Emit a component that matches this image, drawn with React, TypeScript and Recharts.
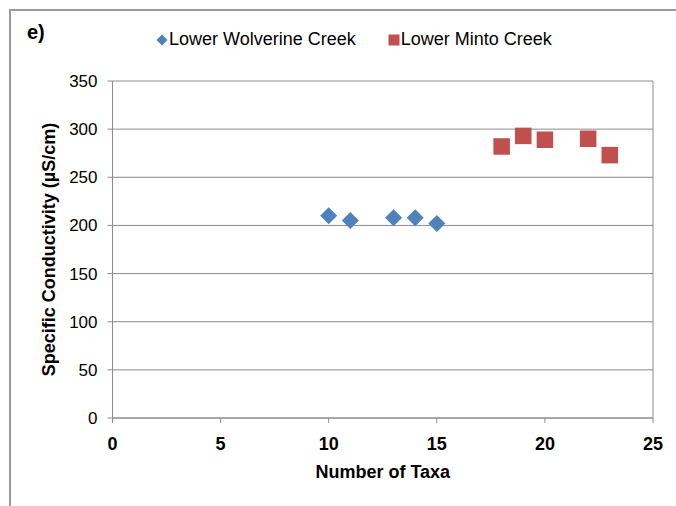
import {
  ScatterChart, Scatter, XAxis, YAxis, CartesianGrid, ReferenceLine,
} from "recharts";

const wolverineTaxa = [10, 11, 13, 14, 15];
const wolverineCond = [210, 205, 208, 208, 202];
const mintoTaxa = [18, 19, 20, 22, 23];
const mintoCond = [282, 293, 289, 290, 273];

const xTicks = [0, 5, 10, 15, 20, 25];
const yTicks = [0, 50, 100, 150, 200, 250, 300, 350];

const BLUE = "#4F81BD";
const RED = "#C0504D";
const AXIS = "#8c8c8c";
const FONT = "'Liberation Sans', Arial, sans-serif";

const wolverine = wolverineTaxa.map((x, i) => ({ x, y: wolverineCond[i] }));
const minto = mintoTaxa.map((x, i) => ({ x, y: mintoCond[i] }));

// eslint-disable-next-line @typescript-eslint/no-explicit-any
const Diamond = (props: any) => {
  const { cx, cy } = props;
  const r = 8.5;
  return <polygon points={`${cx},${cy - r} ${cx + r},${cy} ${cx},${cy + r} ${cx - r},${cy}`} fill={BLUE} />;
};

// eslint-disable-next-line @typescript-eslint/no-explicit-any
const Square = (props: any) => {
  const { cx, cy } = props;
  const s = 16.5;
  return <rect x={cx - s / 2} y={cy - s / 2} width={s} height={s} fill={RED} />;
};

const ChartLegend = () => (
  <div
    style={{
      position: "absolute", left: 156, top: 29, display: "flex", alignItems: "center",
      fontFamily: FONT, fontSize: 18, color: "#000", whiteSpace: "nowrap",
    }}
  >
    <svg width={12} height={12} style={{ marginRight: 1 }}>
      <polygon points="6,0.5 11.5,6 6,11.5 0.5,6" fill={BLUE} />
    </svg>
    <span style={{ marginRight: 32 }}>Lower Wolverine Creek</span>
    <svg width={12} height={12} style={{ marginRight: 1 }}>
      <rect x={0.5} y={0.5} width={11} height={11} fill={RED} />
    </svg>
    <span>Lower Minto Creek</span>
  </div>
);

export default function App() {
  return (
    <div style={{ position: "absolute", left: 0, top: 0, width: 676, height: 506, overflow: "hidden", background: "#fff" }}>
      <div style={{ position: "absolute", left: 9, top: 9, width: 720, height: 620, border: "2px solid #9a9a9a" }} />
      <div style={{ position: "absolute", left: 27, top: 21, fontFamily: FONT, fontWeight: "bold", fontSize: 20 }}>e)</div>
      <ChartLegend />
      <div style={{ position: "absolute", left: 0, top: 0 }}>
        <ScatterChart width={676} height={506} margin={{ top: 81, right: 23, bottom: 28, left: 0 }}>
          <CartesianGrid vertical={false} stroke={AXIS} />
          <XAxis
            type="number"
            dataKey="x"
            domain={[0, 25]}
            ticks={xTicks}
            height={60}
            stroke={AXIS}
            tickSize={5}
            tickMargin={14}
            tick={{ fill: "#000", fontSize: 18, fontWeight: "bold", fontFamily: FONT }}
            label={{
              // eslint-disable-next-line @typescript-eslint/no-explicit-any
              content: ({ viewBox }: any) => (
                <text
                  x={viewBox.x + viewBox.width / 2}
                  y={478}
                  textAnchor="middle"
                  fontFamily={FONT}
                  fontSize={18}
                  fontWeight="bold"
                  fill="#000"
                >
                  Number of Taxa
                </text>
              ),
            }}
          />
          <YAxis
            type="number"
            dataKey="y"
            domain={[0, 350]}
            ticks={yTicks}
            width={112.5}
            stroke={AXIS}
            tickSize={5}
            tickMargin={10}
            tick={{ fill: "#000", fontSize: 17, fontFamily: FONT }}
            label={{
              // eslint-disable-next-line @typescript-eslint/no-explicit-any
              content: ({ viewBox }: any) => {
                const cx = 55;
                const cy = viewBox.y + viewBox.height / 2;
                return (
                  <text
                    x={cx}
                    y={cy}
                    transform={`rotate(-90 ${cx} ${cy})`}
                    textAnchor="middle"
                    fontFamily={FONT}
                    fontSize={18}
                    fontWeight="bold"
                    fill="#000"
                  >
                    Specific Conductivity (µS/cm)
                  </text>
                );
              },
            }}
          />
          <ReferenceLine x={25} stroke={AXIS} />
          <Scatter name="Lower Wolverine Creek" data={wolverine} shape={Diamond} isAnimationActive={false} />
          <Scatter name="Lower Minto Creek" data={minto} shape={Square} isAnimationActive={false} />
        </ScatterChart>
      </div>
    </div>
  );
}
